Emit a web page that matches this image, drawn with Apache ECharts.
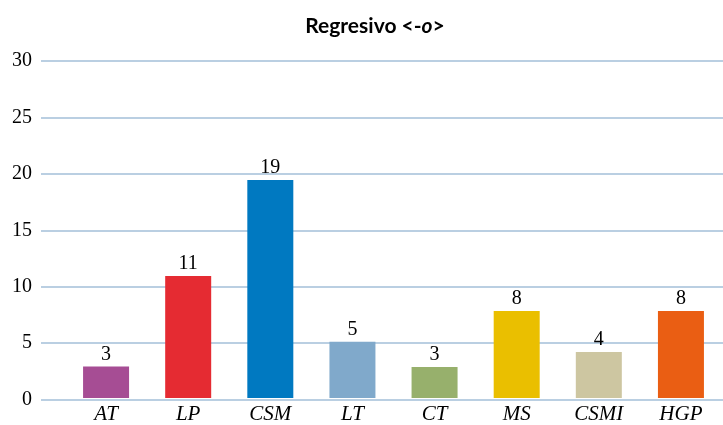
<!DOCTYPE html>
<html>
<head>
<meta charset="utf-8">
<script src="https://cdn.jsdelivr.net/npm/echarts@6/dist/echarts.min.js"></script>
<style>
  html, body { margin: 0; padding: 0; background: #fff; }
  #chart { width: 723px; height: 425px; }
</style>
</head>
<body>
<div id="chart"></div>
<script>
// categorias y valores
var categories = ['AT', 'LP', 'CSM', 'LT', 'CT', 'MS', 'CSMI', 'HGP'];
var values = [2.8, 10.85, 19.4, 5.0, 2.75, 7.75, 4.1, 7.75];
var colors = ['#a64d94', '#e52b32', '#0079c1', '#80a9cb', '#97b06c', '#eabf00', '#cdc6a1', '#ea5e13'];
var yTicks = [0, 5, 10, 15, 20, 25, 30];

var myChart = echarts.init(document.getElementById('chart'));

var lineColor = '#a3bfd9';

var option = {
    animation: false,
    title: {
        text: '{b|Regresivo <-}{i|o}{b|>}',
        left: 370,
        textAlign: 'center',
        top: 8,
        textStyle: {
            fontFamily: 'Lato',
            fontWeight: 'bold',
            fontSize: 21,
            lineHeight: 26,
            color: '#000',
            rich: {
                b: { fontFamily: 'Lato', fontWeight: 'bold', fontSize: 21, lineHeight: 26, color: '#000' },
                i: { fontFamily: 'Lato', fontWeight: 'bold', fontStyle: 'italic', fontSize: 21, lineHeight: 26, color: '#000' }
            }
        }
    },
    grid: [
        { left: 41, right: 0, top: 61, bottom: 25.5 },
        { left: 65, right: 1, top: 61, bottom: 25.5 }
    ],
    xAxis: [
        { gridIndex: 0, type: 'value', show: false, min: 0, max: 1 },
        {
            gridIndex: 1,
            type: 'category',
            data: categories,
            axisLine: { show: false },
            axisTick: { show: false },
            axisLabel: {
                fontFamily: 'Liberation Serif',
                fontStyle: 'italic',
                fontSize: 21,
                color: '#000',
                margin: 6
            }
        }
    ],
    yAxis: [
        {
            gridIndex: 0,
            type: 'value',
            min: 0,
            max: 30,
            interval: 5,
            axisLine: { show: false },
            axisTick: { show: false },
            axisLabel: {
                fontFamily: 'Liberation Serif',
                fontSize: 20,
                color: '#000',
                margin: 9,
                formatter: function (v) { return yTicks.indexOf(v) >= 0 ? String(v) : ''; }
            },
            splitLine: { lineStyle: { color: lineColor, width: 1.5 } }
        },
        { gridIndex: 1, type: 'value', min: 0, max: 30, show: false }
    ],
    series: [{
        type: 'bar',
        xAxisIndex: 1,
        yAxisIndex: 1,
        barWidth: 46,
        data: values.map(function (v, i) {
            return { value: v, itemStyle: { color: colors[i] } };
        }),
        label: {
            show: true,
            position: 'top',
            distance: 2,
            fontFamily: 'Liberation Serif',
            fontSize: 20,
            color: '#000',
            formatter: function (p) { return Math.round(p.value); }
        }
    }]
};

myChart.setOption(option);
</script>
</body>
</html>
